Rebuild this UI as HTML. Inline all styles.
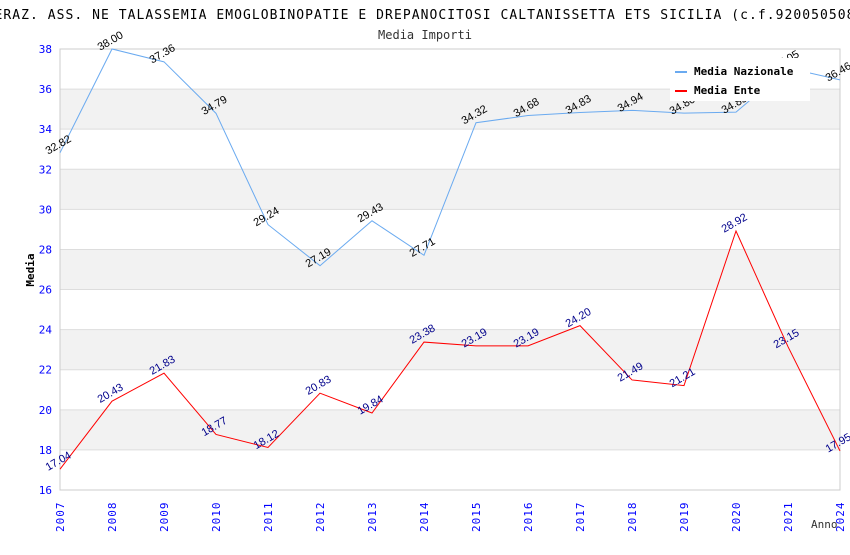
<!DOCTYPE html>
<html><head><meta charset="utf-8"><style>
body{margin:0;background:#fff;width:850px;height:550px;overflow:hidden}
text{font-family:"DejaVu Sans Mono","Liberation Mono",monospace}
text.vl{font-family:"Liberation Sans",sans-serif}
</style></head><body>
<svg id="chart" width="850" height="550" xmlns="http://www.w3.org/2000/svg">
<text x="425" y="19" text-anchor="middle" font-size="13" letter-spacing="1.05" fill="#000">FEDERAZ. ASS. NE TALASSEMIA EMOGLOBINOPATIE E DREPANOCITOSI CALTANISSETTA ETS SICILIA (c.f.92005050856)</text>
<text x="425" y="39" text-anchor="middle" font-size="12" fill="#333">Media Importi</text>
<g id="grid"></g>
<g id="series"></g>
<g id="labels"></g>
<text transform="translate(34,270) rotate(-90)" text-anchor="middle" font-size="11" font-weight="bold" fill="#000">Media</text>
<text x="811" y="528" font-size="11" fill="#333">Anno</text>
<g>
<rect x="670" y="58" width="140" height="43" fill="#fff"/>
<rect x="675" y="71" width="12" height="2" fill="#6aaaf0"/>
<text x="694" y="75" font-size="11" font-weight="bold">Media Nazionale</text>
<rect x="675" y="90" width="12" height="2" fill="#f00"/>
<text x="694" y="94" font-size="11" font-weight="bold">Media Ente</text>
</g>
</svg>
<script>
const years=["2007","2008","2009","2010","2011","2012","2013","2014","2015","2016","2017","2018","2019","2020","2021","2024"];
const nazionale=[32.82,38.00,37.36,34.79,29.24,27.19,29.43,27.71,34.32,34.68,34.83,34.94,34.80,34.85,37.05,36.46];
const ente=[17.04,20.43,21.83,18.77,18.12,20.83,19.84,23.38,23.19,23.19,24.20,21.49,21.21,28.92,23.15,17.95];
const yTicks=[16,18,20,22,24,26,28,30,32,34,36,38];
const L=60,R=840,T=49,B=490,yMin=16,yMax=38;
const NS="http://www.w3.org/2000/svg";
const xs=i=>L+i*(R-L)/(years.length-1);
const ys=v=>B-(v-yMin)/(yMax-yMin)*(B-T);
function mk(tag,attrs,parent,txt){const e=document.createElementNS(NS,tag);for(const k in attrs)e.setAttribute(k,attrs[k]);if(txt!==undefined)e.textContent=txt;parent.appendChild(e);return e;}
const grid=document.getElementById('grid');
for(let i=0;i<yTicks.length-1;i++){
  if(i%2===1){const b=mk('rect',{x:L,y:ys(yTicks[i+1]),width:R-L,height:ys(yTicks[i])-ys(yTicks[i+1]),fill:'#f2f2f2'},grid);
  
  }
}
yTicks.forEach(t=>{
  const l=mk('line',{x1:L,x2:R,y1:ys(t),y2:ys(t),stroke:'#ddd','stroke-width':1},grid);
  
  
  const tx=mk('text',{x:L-8,y:ys(t)+4,'text-anchor':'end','font-size':11,fill:'#00f'},grid,t);
  
  
});
const frame=mk('rect',{x:L,y:T,width:R-L,height:B-T,fill:'none',stroke:'#ccc'},grid);


years.forEach((y,i)=>{
  const tx=mk('text',{transform:`translate(${xs(i)+4},${B+42}) rotate(-90)`,'font-size':11,'letter-spacing':1,fill:'#00f'},grid,y);
  
  
});
const ser=document.getElementById('series'),lab=document.getElementById('labels');
function draw(data,color,lc,name){
  const p=mk('polyline',{points:data.map((v,i)=>xs(i)+','+ys(v)).join(' '),fill:'none',stroke:color,'stroke-width':1},ser);
  
  
  data.forEach((v,i)=>{
    const t=mk('text',{class:'vl',transform:`translate(${xs(i)},${ys(v)-5}) rotate(-30)`,'text-anchor':'middle','font-size':11,fill:lc},lab,v.toFixed(2));
    
    
  });
}
draw(nazionale,'#6aaaf0','#000','nazionale');
draw(ente,'#f00','#00008b','ente');
</script>
</body></html>
